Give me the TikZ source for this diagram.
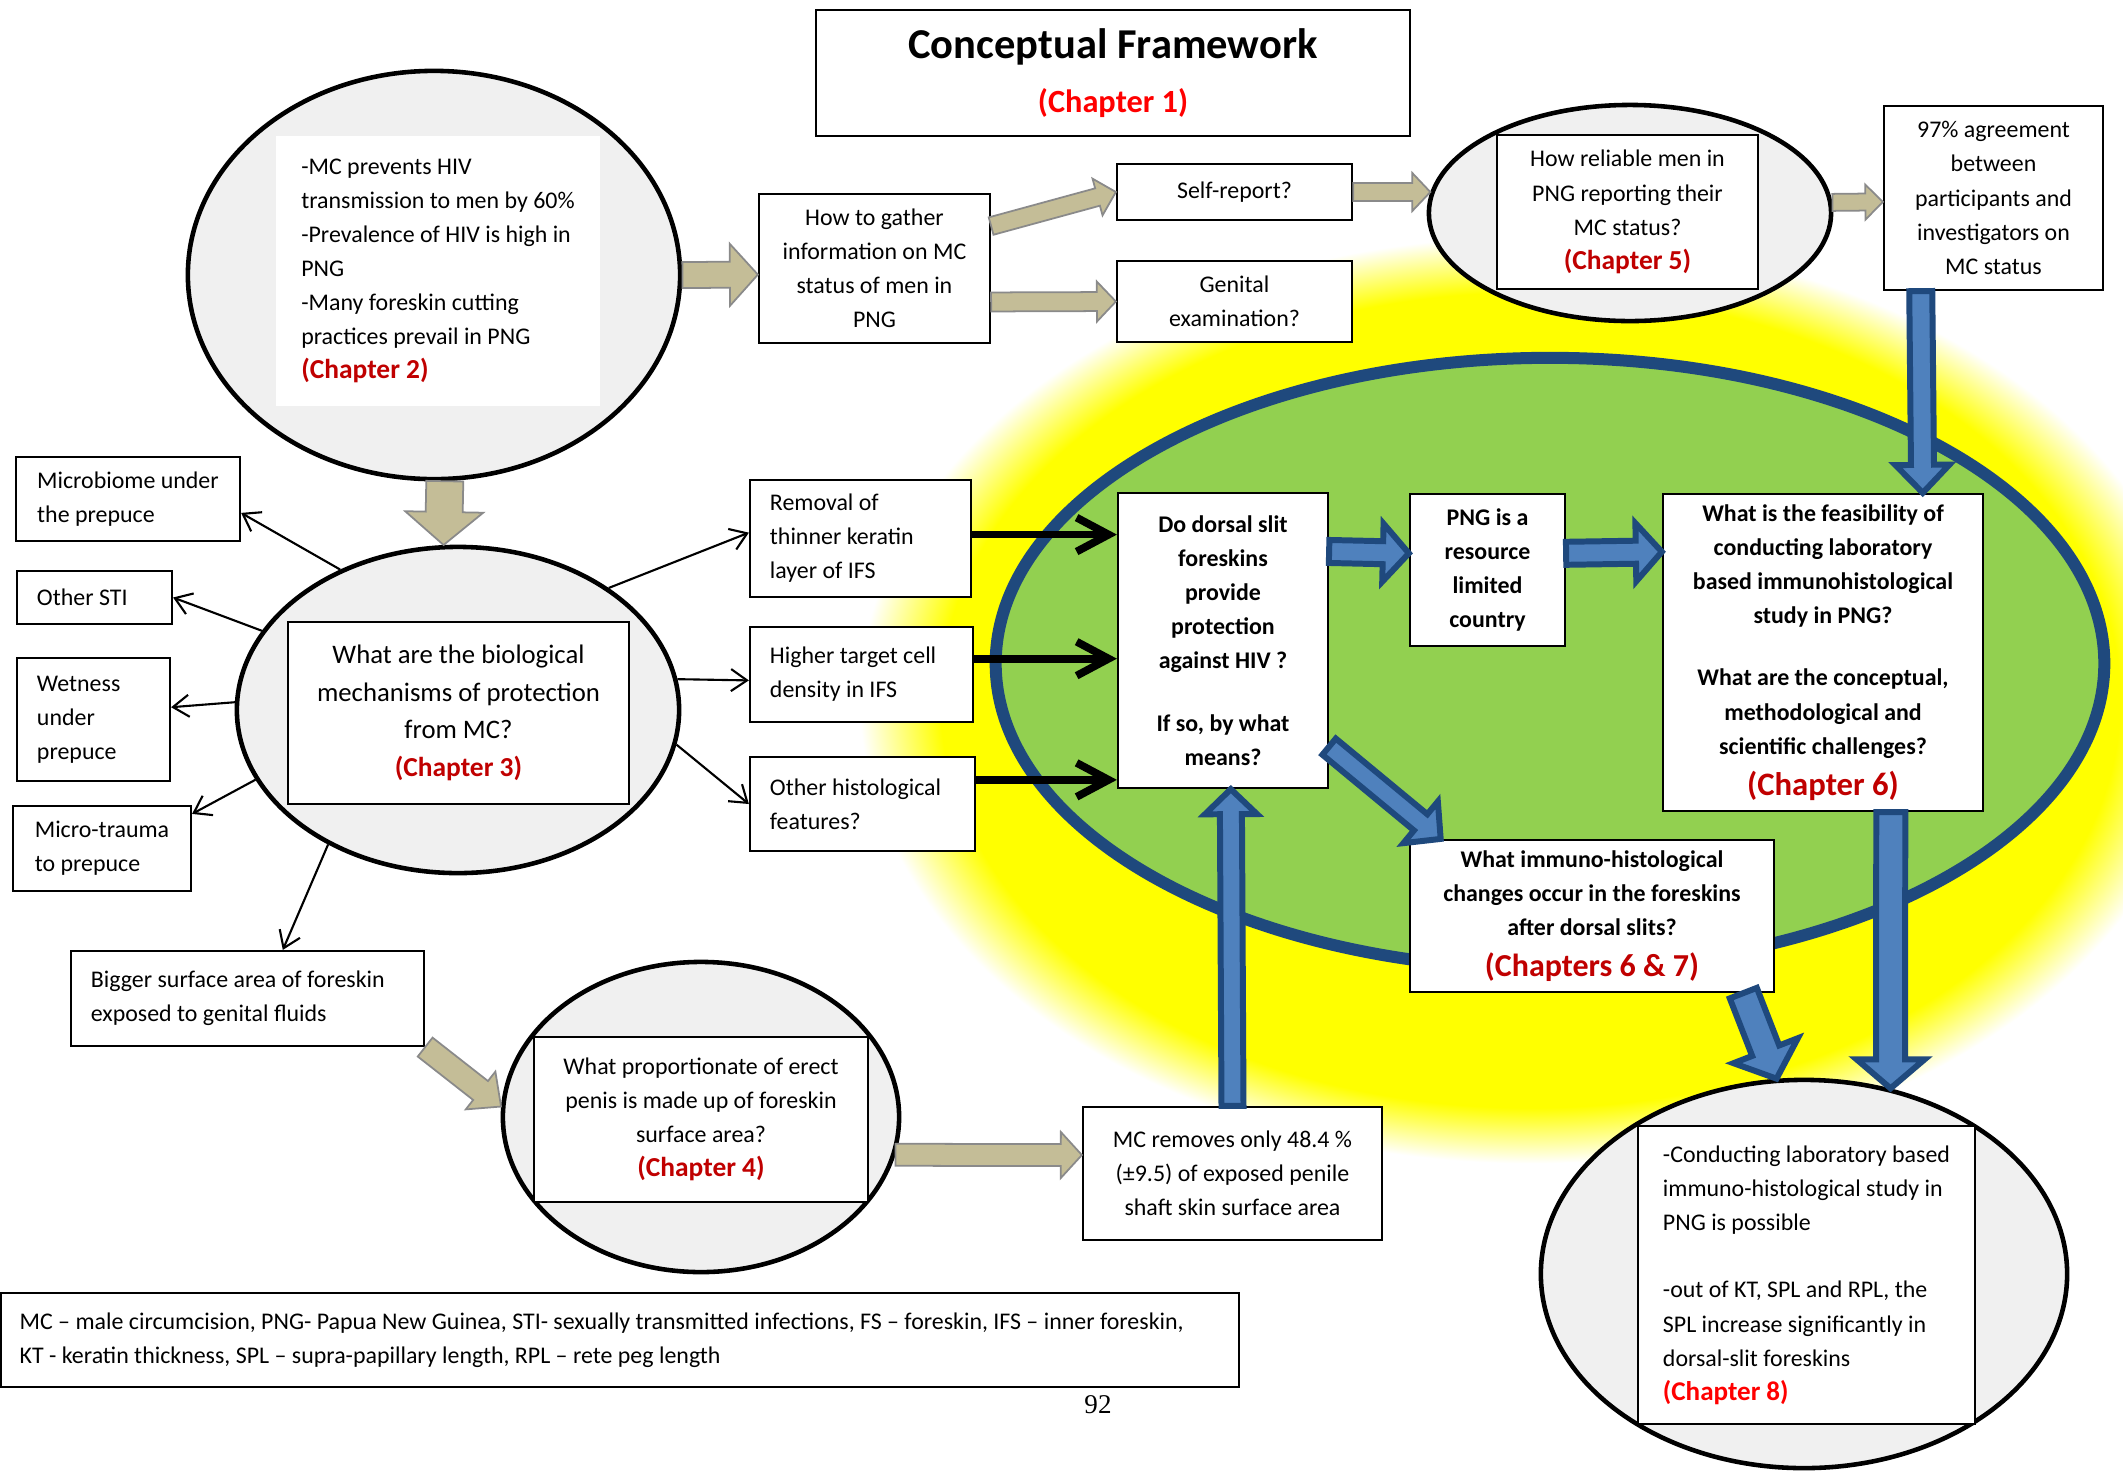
\documentclass[tikz,border=0pt]{standalone}
\usepackage{fontspec}
\setmainfont{Carlito}
\newfontfamily\pagefont{Liberation Serif}
\usetikzlibrary{shapes.geometric,arrows.meta,calc}

\definecolor{beigefill}{HTML}{C4BD97}
\definecolor{beigeline}{HTML}{8A8A8A}
\definecolor{ovalgray}{HTML}{F0F0F0}
\definecolor{leaf}{HTML}{92D050}
\definecolor{rimblue}{HTML}{1F497D}
\definecolor{fillblue}{HTML}{4F81BD}
\definecolor{chapred}{HTML}{C00000}
\definecolor{brightred}{HTML}{FF0000}

\pgfdeclareradialshading{glow}{\pgfpoint{0bp}{0bp}}{color(0bp)=(yellow); color(22bp)=(yellow); color(25bp)=(white); color(50bp)=(white)}

\newcommand\bodysize{\fontsize{6.8}{9.7}\selectfont}
\newcommand\chp[1]{{\fontsize{7.8}{9.7}\selectfont\bfseries\color{chapred}#1}}

% block arrow: style, from, to, half shaft, half head, head length
\newcommand\blockarrow[6]{%
  \path[#1] ($(#2)!#4!90:(#3)$) -- ($(#3)!#6!(#2)!#4!-90:(#2)$)
    -- ($(#3)!#6!(#2)!#5!-90:(#2)$) -- (#3)
    -- ($(#3)!#6!(#2)!#5!90:(#2)$) -- ($(#3)!#6!(#2)!#4!90:(#2)$)
    -- ($(#2)!#4!-90:(#3)$) -- cycle;}

\begin{document}
\begin{tikzpicture}[x=0.01cm, y=-0.01cm,
    box/.style={draw, line width=0.6pt, fill=white, inner sep=0pt, align=center, font=\bodysize},
    oval/.style={ellipse, draw, line width=1.3pt, fill=ovalgray, inner sep=0pt},
    beige/.style={fill=beigefill, draw=beigeline, line width=0.5pt},
    bluearr/.style={fill=fillblue, draw=rimblue, line width=1.7pt},
    thinarr/.style={-{Straight Barb[length=1.6mm,width=2.2mm]}, line width=0.6pt},
    thickarr/.style={-{Straight Barb[length=3.2mm,width=3.4mm]}, line width=2.2pt}]
    \useasboundingbox (0,0) rectangle (2123,1472);
    \fill[white] (0,0) rectangle (2123,1472);
    \begin{scope}
      \clip (0,0) rectangle (2123,1472);
      \shade[shading=glow] (1530,700) ellipse [x radius=6.7cm, y radius=4.63cm];
    \end{scope}
    \draw[line width=0.12cm, rimblue, fill=leaf] (1550,663.5) ellipse [x radius=5.54cm, y radius=3.055cm];

    \node[box, minimum width=5.94cm, minimum height=1.26cm, font=\fontsize{12.1}{15.4}\selectfont\bfseries] (title) at (1113,73) {Conceptual Framework\\{\fontsize{9.2}{11}\selectfont\color{brightred}(Chapter 1)}};

    \node[oval, minimum width=4.92cm, minimum height=4.08cm] (ell2) at (434,275) {};
    \node[fill=white, inner sep=0pt, minimum width=3.24cm, minimum height=2.7cm, align=left, font=\bodysize] (facts) at (438,271) {-MC prevents HIV\\transmission to men by 60\%\\-Prevalence of HIV is high in\\PNG\\-Many foreskin cutting\\practices prevail in PNG\\\chp{(Chapter 2)}};
    \node[box, minimum width=2.31cm, minimum height=1.49cm] (gather) at (874.5,268.5) {How to gather\\information on MC\\status of men in\\PNG};
    \node[box, minimum width=2.35cm, minimum height=0.56cm] (selfrep) at (1234.5,192) {Self-report?};
    \node[box, minimum width=2.35cm, minimum height=0.81cm] (genital) at (1234.5,301.5) {Genital\\examination?};
    \node[oval, minimum width=4.02cm, minimum height=2.16cm] (ell5) at (1630,213) {};
    \node[box, minimum width=2.61cm, minimum height=1.54cm] (rel) at (1627.5,212) {How reliable men in\\PNG reporting their\\MC status?\\\chp{(Chapter 5)}};
    \node[box, minimum width=2.19cm, minimum height=1.84cm] (agree) at (1993.5,198) {97\% agreement\\between\\participants and\\investigators on\\MC status};

    \node[oval, minimum width=4.42cm, minimum height=3.26cm] (ell3) at (458,710) {};
    \node[box, minimum width=3.41cm, minimum height=1.82cm, font=\fontsize{7.6}{10.7}\selectfont] (mech) at (458.5,713) {What are the biological\\mechanisms of protection\\from MC?\\\chp{(Chapter 3)}};
    \node[box, minimum width=2.24cm, minimum height=0.84cm, align=left] (micro) at (128,499) {Microbiome under\\the prepuce};
    \node[box, minimum width=1.55cm, minimum height=0.53cm, text width=1.15cm, align=flush left] (sti) at (94.5,597.5) {Other STI};
    \node[box, minimum width=1.53cm, minimum height=1.23cm, text width=1.13cm, align=flush left] (wet) at (93.5,719.5) {Wetness\\under\\prepuce};
    \node[box, minimum width=1.78cm, minimum height=0.85cm, align=left] (trauma) at (102,848.5) {Micro-trauma\\to prepuce};
    \node[box, minimum width=3.53cm, minimum height=0.95cm, text width=3.13cm, align=flush left] (bigger) at (247.5,998.5) {Bigger surface area of foreskin\\exposed to genital fluids};
    \node[box, minimum width=2.21cm, minimum height=1.17cm, text width=1.81cm, align=flush left] (removal) at (860.5,538.5) {Removal of\\thinner keratin\\layer of IFS};
    \node[box, minimum width=2.23cm, minimum height=0.95cm, text width=1.83cm, align=flush left] (higher) at (861.5,674.5) {Higher target cell\\density in IFS};
    \node[box, minimum width=2.25cm, minimum height=0.94cm, text width=1.85cm, align=flush left] (otherhist) at (862.5,804) {Other histological\\features?};

    \node[box, minimum width=2.10cm, minimum height=2.95cm, font=\bodysize\bfseries] (dorsal) at (1223,640.5) {Do dorsal slit\\foreskins\\provide\\protection\\against HIV ?\\[8pt]If so, by what\\means?};
    \node[box, minimum width=1.55cm, minimum height=1.52cm, font=\bodysize\bfseries] (png) at (1487.5,570) {PNG is a\\resource\\limited\\country};
    \node[box, minimum width=3.2cm, minimum height=3.17cm, font=\bodysize\bfseries] (feas) at (1823,652.5) {What is the feasibility of\\conducting laboratory\\based immunohistological\\study in PNG?\\[8pt]What are the conceptual,\\methodological and\\scientific challenges?\\[2pt]{\fontsize{9.3}{12}\selectfont\color{chapred}(Chapter 6)}};
    \node[box, minimum width=3.64cm, minimum height=1.52cm, font=\bodysize\bfseries] (immuno) at (1592,916) {What immuno-histological\\changes occur in the foreskins\\after dorsal slits?\\[2pt]{\fontsize{9.1}{11}\selectfont\color{chapred}(Chapters 6 \& 7)}};

    \node[oval, minimum width=3.96cm, minimum height=3.10cm] (ell4) at (701,1117) {};
    \node[box, minimum width=3.34cm, minimum height=1.65cm] (prop) at (701,1119.5) {What proportionate of erect\\penis is made up of foreskin\\surface area?\\\chp{(Chapter 4)}};
    \node[box, minimum width=2.99cm, minimum height=1.33cm] (removes) at (1232.5,1173.5) {MC removes only 48.4 \%\\(±9.5) of exposed penile\\shaft skin surface area};
    \node[oval, minimum width=5.26cm, minimum height=3.88cm] (ell8) at (1804,1274) {};
    \node[box, minimum width=3.37cm, minimum height=2.98cm, align=left] (concl) at (1806.5,1275) {-Conducting laboratory based\\immuno-histological study in\\PNG is possible\\[9.5pt]-out of KT, SPL and RPL, the\\SPL increase significantly in\\dorsal-slit foreskins\\{\fontsize{7.7}{9.7}\selectfont\bfseries\color{brightred}(Chapter 8)}};
    \node[box, minimum width=12.38cm, minimum height=0.94cm, text width=12cm, align=flush left] (legend) at (620,1340) {MC – male circumcision, PNG- Papua New Guinea, STI- sexually transmitted infections, FS – foreskin, IFS – inner foreskin,\\KT - keratin thickness, SPL – supra-papillary length, RPL – rete peg length};
    \node[font=\pagefont\fontsize{7.7}{9}\selectfont] (page) at (1098,1405) {92};

    \blockarrow{beige}{ell2.east}{gather.183}{0.13cm}{0.31cm}{0.28cm}
    \blockarrow{beige}{gather.20}{selfrep.west}{0.09cm}{0.19cm}{0.19cm}
    \blockarrow{beige}{gather.344}{genital.west}{0.095cm}{0.2cm}{0.19cm}
    \blockarrow{beige}{selfrep.east}{ell5.174}{0.09cm}{0.19cm}{0.18cm}
    \blockarrow{beige}{ell5.3}{agree.182}{0.085cm}{0.175cm}{0.175cm}
    \blockarrow{beige}{ell2.273}{ell3.95}{0.185cm}{0.39cm}{0.33cm}
    \blockarrow{beige}{bigger.south east}{ell4.177}{0.12cm}{0.24cm}{0.26cm}
    \blockarrow{beige}{ell4.349}{removes.173}{0.11cm}{0.23cm}{0.21cm}

    \blockarrow{bluearr}{agree.232}{feas.58}{0.115cm}{0.27cm}{0.28cm}
    \blockarrow{bluearr}{dorsal.40}{png.168}{0.115cm}{0.29cm}{0.26cm}
    \blockarrow{bluearr}{png.12}{feas.148}{0.115cm}{0.29cm}{0.26cm}
    \blockarrow{bluearr}{dorsal.315}{immuno.153}{0.105cm}{0.27cm}{0.26cm}
    \blockarrow{bluearr}{feas.293}{ell8.65}{0.145cm}{0.34cm}{0.29cm}
    \blockarrow{bluearr}{immuno.333}{ell8.98}{0.145cm}{0.345cm}{0.30cm}
    \blockarrow{bluearr}{removes.north}{dorsal.273}{0.11cm}{0.26cm}{0.25cm}

    \draw[thickarr] (removal.2) -- (removal.2 -| dorsal.west);
    \draw[thickarr] (higher.8) -- (higher.8 -| dorsal.west);
    \draw[thickarr] (otherhist.12) -- (otherhist.12 -| dorsal.west);

    \draw[thinarr] (ell3.130) -- (micro.353);
    \draw[thinarr] (ell3.158) -- (sti.east);
    \draw[thinarr] (ell3.178) -- (wet.9);
    \draw[thinarr] (ell3.199) -- (trauma.21);
    \draw[thinarr] (ell3.226) -- (bigger.54);
    \draw[thinarr] (ell3.39) -- (removal.177);
    \draw[thinarr] (ell3.8) -- (higher.183);
    \draw[thinarr] (ell3.351) -- (otherhist.west);
\end{tikzpicture}
\end{document}
